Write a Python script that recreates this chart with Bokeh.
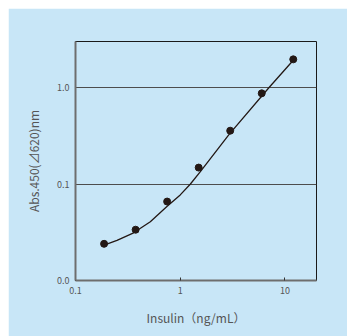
from bokeh.plotting import figure
from bokeh.models import FixedTicker, CustomJSTickFormatter
from bokeh.embed import file_html
from bokeh.resources import INLINE

# standard points
conc = [0.1875, 0.375, 0.75, 1.5, 3, 6, 12]
absorb = [0.024, 0.0336, 0.0658, 0.148, 0.357, 0.871, 1.96]

# fitted curve
curve_x = [0.193, 0.249, 0.359, 0.518, 0.746, 1.0, 1.245, 1.55, 2.93, 7.05, 11.6]
curve_y = [0.0235, 0.026, 0.0312, 0.0407, 0.0584, 0.0771, 0.0995, 0.1338, 0.3265, 1.0, 1.84]

x_ticks = [0.1, 1, 10]
y_ticks = [0.01, 0.1, 1]
y_tick_labels = ["0.0", "0.1", "1.0"]

BG = "#c8e6f7"
FONT = "Noto Sans CJK JP"
TXT = "#555555"

p = figure(width=339, height=328, x_axis_type="log", y_axis_type="log",
           x_range=(0.1, 20), y_range=(0.01, 3),
           output_backend="svg", toolbar_location=None,
           background_fill_color=BG, border_fill_color=BG,
           min_border_left=67, min_border_right=31,
           min_border_top=33, min_border_bottom=56)
p.margin = (8, 0, 0, 8)

p.outline_line_color = "#1a1a1a"
p.outline_line_width = 1

p.xgrid.visible = False
p.ygrid.ticker = FixedTicker(ticks=[0.1, 1])
p.ygrid.grid_line_color = "#4d4d4d"
p.ygrid.grid_line_width = 1

p.xaxis.ticker = FixedTicker(ticks=x_ticks)
p.yaxis.ticker = FixedTicker(ticks=y_ticks)
p.xaxis.formatter = CustomJSTickFormatter(code="""
if (tick < 0.5) return "0.1";
if (tick < 5) return "1";
return "10";
""")
p.yaxis.formatter = CustomJSTickFormatter(args=dict(labels=y_tick_labels), code="""
if (tick < 0.05) return labels[0];
if (tick < 0.5) return labels[1];
return labels[2];
""")

for ax in (p.xaxis[0], p.yaxis[0]):
    ax.axis_line_color = "#6e6e6e"
    ax.axis_line_width = 2
    ax.major_tick_line_color = "#333333"
    ax.minor_tick_line_color = None
    ax.major_label_text_font = FONT
    ax.major_label_text_font_size = "9px"
    ax.major_label_text_color = TXT
    ax.axis_label_text_font = FONT
    ax.axis_label_text_font_size = "12px"
    ax.axis_label_text_font_style = "normal"
    ax.axis_label_text_color = TXT

p.xaxis.major_tick_in = 3
p.xaxis.major_tick_out = 0
p.xaxis.major_label_standoff = 6
p.xaxis.axis_label = "Insulin（ng/mL）"
p.xaxis.axis_label_standoff = 12

p.yaxis.major_tick_line_color = None
p.yaxis.major_tick_in = 0
p.yaxis.major_tick_out = 0
p.yaxis.major_label_standoff = 6
p.yaxis.axis_label = "Abs.450(⊿620)nm"
p.yaxis.axis_label_standoff = 12

p.line(curve_x, curve_y, line_color="#231815", line_width=1.3)
p.scatter(conc, absorb, size=7, fill_color="#231815", line_color="#231815")

open("out.html", "w").write(file_html(p, INLINE))
